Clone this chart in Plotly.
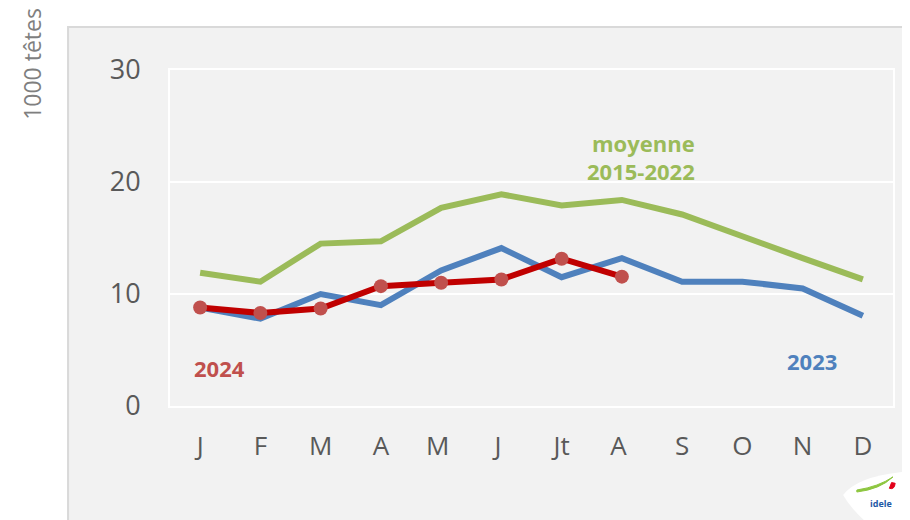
import plotly.graph_objects as go

months = ['J', 'F', 'M', 'A', 'M ', 'J ', 'Jt', 'A ', 'S', 'O', 'N', 'D']

# moyenne 2015-2022
avg_2015_2022 = [11.9, 11.1, 14.5, 14.7, 17.7, 18.9, 17.9, 18.4, 17.1, 15.1, 13.2, 11.3]
y2023 = [8.8, 7.8, 10.0, 9.0, 12.1, 14.1, 11.5, 13.2, 11.1, 11.1, 10.5, 8.05]
y2024 = [8.8, 8.3, 8.7, 10.7, 11.0, 11.3, 13.15, 11.55]

y_ticks = [0, 10, 20, 30]

GREEN = '#9BBB59'
BLUE = '#4F81BD'
RED = '#C00000'
RED_MK = '#C0504D'
FONT = 'Open Sans, Liberation Sans, sans-serif'

fig = go.Figure()

fig.add_trace(go.Scatter(
    x=months, y=avg_2015_2022, mode='lines',
    line=dict(color=GREEN, width=6), hoverinfo='skip', showlegend=False,
))
fig.add_trace(go.Scatter(
    x=months, y=y2023, mode='lines',
    line=dict(color=BLUE, width=6), hoverinfo='skip', showlegend=False,
))
fig.add_trace(go.Scatter(
    x=months[:len(y2024)], y=y2024, mode='lines+markers',
    line=dict(color=RED, width=6),
    marker=dict(color=RED_MK, size=14),
    hoverinfo='skip', showlegend=False,
))

# grey chart box behind everything
fig.add_shape(
    type='rect', xref='paper', yref='paper',
    x0=-0.141, x1=1.0166, y0=-0.4, y1=1.128,
    fillcolor='#F2F2F2', line=dict(color='#D9D9D9', width=2), layer='below',
)

# logo in the corner (rough)
fig.add_shape(
    type='path', xref='paper', yref='paper',
    path='M 0.931,-0.265 Q 0.95,-0.21 1.014,-0.196 L 1.016,-0.34 L 0.96,-0.34 Q 0.94,-0.30 0.931,-0.265 Z',
    fillcolor='white', line=dict(width=0), layer='above',
)
fig.add_shape(
    type='path', xref='paper', yref='paper',
    path='M 0.950,-0.250 Q 0.980,-0.240 1.000,-0.211 Q 0.982,-0.248 0.950,-0.256 Z',
    fillcolor='#8DC63F', line=dict(color='#8DC63F', width=1), layer='above',
)
fig.add_shape(
    type='path', xref='paper', yref='paper',
    path='M 0.995,-0.245 Q 1.002,-0.25 1.003,-0.23 L 0.998,-0.228 Z',
    fillcolor='#E2001A', line=dict(color='#E2001A', width=1), layer='above',
)

annotations = [
    dict(x=0.729, y=0.783, text='<b>moyenne</b>', xanchor='right', font=dict(color=GREEN, size=22)),
    dict(x=0.729, y=0.699, text='<b>2015-2022</b>', xanchor='right', font=dict(color=GREEN, size=22)),
    dict(x=0.0685, y=0.113, text='<b>2024</b>', font=dict(color=RED_MK, size=22)),
    dict(x=0.888, y=0.134, text='<b>2023</b>', font=dict(color=BLUE, size=22)),
    dict(x=0.984, y=-0.289, text='<b>idele</b>', font=dict(color='#1F5AA6', size=9)),
]
for a in annotations:
    a.setdefault('xanchor', 'center')
    a.update(xref='paper', yref='paper', yanchor='middle', showarrow=False)
    a['font']['family'] = FONT
    fig.add_annotation(**a)

fig.add_annotation(
    x=-0.191, y=1.018, xref='paper', yref='paper', showarrow=False,
    text='1000 têtes', textangle=-90, xanchor='center', yanchor='middle',
    font=dict(color='#7F7F7F', size=23, family=FONT),
)

fig.update_xaxes(
    type='category', range=[-0.5, 11.5],
    showgrid=False, showline=True, linecolor='white', linewidth=2, mirror=True,
    ticks='', tickfont=dict(size=26, color='#595959', family=FONT),
    ticklabelstandoff=16,
)
fig.update_yaxes(
    range=[0, 30], tickvals=y_ticks,
    showgrid=True, gridcolor='white', gridwidth=2,
    showline=True, linecolor='white', linewidth=2, mirror=True,
    zeroline=False, ticks='', tickfont=dict(size=27, color='#595959', family=FONT),
    ticklabelstandoff=22,
)

# page body adds 8px, so the figure is 8px smaller and shifted
fig.update_layout(
    width=902, height=512,
    margin=dict(l=162, r=17, t=62, b=114),
    paper_bgcolor='white', plot_bgcolor='#F2F2F2',
)

fig.write_html('out.html')
